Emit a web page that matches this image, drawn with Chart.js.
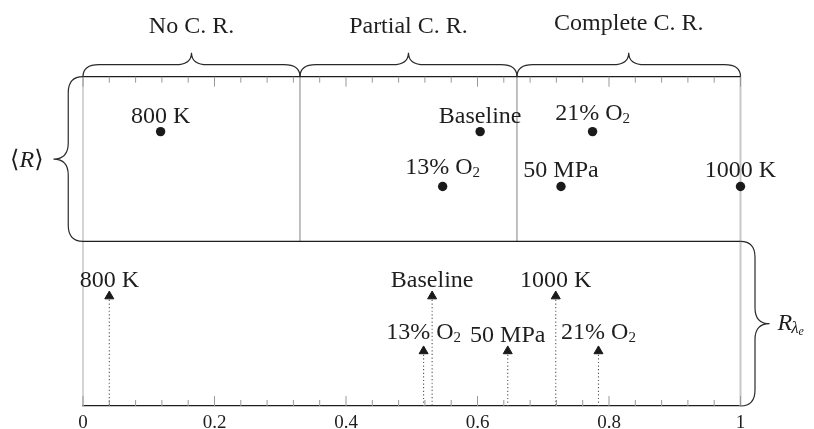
<!DOCTYPE html>
<html>
<head>
<meta charset="utf-8">
<script src="https://cdn.jsdelivr.net/npm/chart.js@4.4.1/dist/chart.umd.min.js"></script>
<style>
  html, body { margin: 0; padding: 0; background: #fff; }
</style>
</head>
<body>
<canvas id="chart" width="814" height="429"></canvas>
<script>
// cases, in the same order for both panels ('_' marks a subscript)
const cases = ['800 K', '13% O_2', 'Baseline', '21% O_2', '50 MPa', '1000 K'];
const meanR = [0.118, 0.547, 0.604, 0.775, 0.727, 1.0];
const meanRRow = [5, 4, 5, 5, 4, 4];
const rLambda = [0.040, 0.518, 0.531, 0.784, 0.646, 0.719];
const rLambdaRow = [2, 1, 2, 1, 1, 2];
const regimeEdges = [0, 0.33, 0.66, 1];
const regimeLabels = ['No C. R.', 'Partial C. R.', 'Complete C. R.'];
const xTickStep = 0.04;
const xLabelStep = 0.2;

const SERIF = "'Liberation Serif', 'DejaVu Serif', serif";
const INK = '#1e1e1e';

function isMajor(v) {
  const q = v / xLabelStep;
  return Math.abs(q - Math.round(q)) < 1e-6;
}

function line(ctx, x1, y1, x2, y2, color, width, dash) {
  ctx.beginPath();
  ctx.setLineDash(dash || []);
  ctx.strokeStyle = color;
  ctx.lineWidth = width;
  ctx.moveTo(x1, y1);
  ctx.lineTo(x2, y2);
  ctx.stroke();
  ctx.setLineDash([]);
}

// curly brace from a to b, tip on the left-hand side of a->b
function brace(ctx, ax, ay, bx, by, depth) {
  const len = Math.hypot(bx - ax, by - ay);
  const h = depth / 2;
  const r = Math.min(16, len / 4);
  const m = len / 2;
  ctx.save();
  ctx.translate(ax, ay);
  ctx.rotate(Math.atan2(by - ay, bx - ax));
  ctx.beginPath();
  ctx.moveTo(0, 0);
  ctx.quadraticCurveTo(0, -h, r, -h);
  ctx.lineTo(m - r, -h);
  ctx.quadraticCurveTo(m, -h, m, -depth);
  ctx.quadraticCurveTo(m, -h, m + r, -h);
  ctx.lineTo(len - r, -h);
  ctx.quadraticCurveTo(len, -h, len, 0);
  ctx.strokeStyle = '#2a2a2a';
  ctx.lineWidth = 1.2;
  ctx.stroke();
  ctx.restore();
}

function caseLabel(ctx, text, cx, cy) {
  const [main, sub] = text.split('_');
  ctx.font = '24px ' + SERIF;
  const wMain = ctx.measureText(main).width;
  let wSub = 0;
  if (sub) {
    ctx.font = '15px ' + SERIF;
    wSub = ctx.measureText(sub).width;
  }
  const base = cy - (sub ? 12 : 9);
  const x0 = cx - (wMain + wSub) / 2;
  ctx.textAlign = 'left';
  ctx.textBaseline = 'alphabetic';
  ctx.fillStyle = INK;
  ctx.font = '24px ' + SERIF;
  ctx.fillText(main, x0, base);
  if (sub) {
    ctx.font = '15px ' + SERIF;
    ctx.fillText(sub, x0 + wMain, base + 3);
  }
}

const framePlugin = {
  id: 'frame',
  beforeDatasetsDraw(chart) {
    const { ctx, chartArea: a, scales: { x, y } } = chart;
    const yTop = y.getPixelForValue(6);
    const yMid = y.getPixelForValue(3);
    const yBot = y.getPixelForValue(0);
    ctx.save();
    line(ctx, x.getPixelForValue(0), yTop, x.getPixelForValue(0), yBot, '#b8b8b8', 1.2);
    line(ctx, x.getPixelForValue(1), yTop, x.getPixelForValue(1), yBot, '#c8c8c8', 2);
    regimeEdges.slice(1, -1).forEach(v => {
      const px = x.getPixelForValue(v);
      line(ctx, px, yTop, px, yMid, '#8c8c8c', 1.1);
    });
    line(ctx, a.left, yTop, a.right, yTop, INK, 1.3);
    line(ctx, a.left, yMid, a.right, yMid, INK, 1.3);
    x.ticks.forEach(t => {
      const px = x.getPixelForValue(t.value);
      const len = isMajor(t.value) ? 10 : 6;
      line(ctx, px, yTop, px, yTop + len, '#999', 1);
      line(ctx, px, yBot, px, yBot - len, '#999', 1);
    });
    chart.getDatasetMeta(1).data.forEach(el => {
      line(ctx, el.x, el.y, el.x, yBot, '#555', 1.1, [1.2, 2.4]);
    });
    ctx.restore();
  },
  afterDatasetsDraw(chart) {
    const { ctx, scales: { x, y } } = chart;
    const yTop = y.getPixelForValue(6);
    const yMid = y.getPixelForValue(3);
    const yBot = y.getPixelForValue(0);
    ctx.save();

    [0, 1].forEach(i => {
      chart.getDatasetMeta(i).data.forEach((el, j) => caseLabel(ctx, cases[j], el.x, el.y));
    });

    // regime braces and titles
    const topDepth = 24;
    regimeLabels.forEach((label, i) => {
      const x1 = x.getPixelForValue(regimeEdges[i]);
      const x2 = x.getPixelForValue(regimeEdges[i + 1]);
      brace(ctx, x1, yTop, x2, yTop, topDepth);
      ctx.font = '24px ' + SERIF;
      const m = ctx.measureText(label);
      ctx.fillStyle = INK;
      ctx.textAlign = 'center';
      ctx.textBaseline = 'alphabetic';
      ctx.fillText(label, (x1 + x2) / 2, yTop - topDepth - 19.7 - m.actualBoundingBoxDescent * 0.65);
    });

    // left brace: <R>
    const x0 = x.getPixelForValue(0);
    const leftDepth = 29.5;
    brace(ctx, x0, yMid, x0, yTop, leftDepth);
    const tipL = { x: x0 - leftDepth, y: (yTop + yMid) / 2 };
    const parts = [['\u27E8', ''], ['R', 'italic '], ['\u27E9', '']];
    let w = 0;
    parts.forEach(([t, s]) => { ctx.font = s + '24px ' + SERIF; w += ctx.measureText(t).width; });
    let cx = tipL.x - 10 - w;
    ctx.textAlign = 'left';
    ctx.textBaseline = 'alphabetic';
    ctx.fillStyle = INK;
    parts.forEach(([t, s]) => {
      ctx.font = s + '24px ' + SERIF;
      ctx.fillText(t, cx, tipL.y + 7.5);
      cx += ctx.measureText(t).width;
    });

    // right brace: R_lambda_e
    const x1 = x.getPixelForValue(1);
    const rightDepth = 29;
    brace(ctx, x1, yMid, x1, yBot, rightDepth);
    const tipR = { x: x1 + rightDepth, y: (yMid + yBot) / 2 };
    let rx = tipR.x + 8;
    const rb = tipR.y + 6;
    ctx.font = 'italic 24px ' + SERIF;
    ctx.fillText('R', rx, rb);
    rx += ctx.measureText('R').width - 1;
    ctx.font = 'italic 17px ' + SERIF;
    ctx.fillText('\u03BB', rx, rb + 3.7);
    rx += ctx.measureText('\u03BB').width;
    ctx.font = 'italic 12px ' + SERIF;
    ctx.fillText('e', rx, rb + 5.7);

    ctx.restore();
  }
};

new Chart(document.getElementById('chart'), {
  type: 'scatter',
  data: {
    datasets: [
      {
        label: '<R>',
        data: meanR.map((v, i) => ({ x: v, y: meanRRow[i] })),
        pointStyle: 'circle',
        pointRadius: 4.7,
        backgroundColor: '#1a1a1a',
        borderColor: '#1a1a1a',
        borderWidth: 0,
        clip: false
      },
      {
        label: 'R_lambda_e',
        data: rLambda.map((v, i) => ({ x: v, y: rLambdaRow[i] })),
        pointStyle: 'triangle',
        pointRadius: 5.2,
        backgroundColor: '#1a1a1a',
        borderColor: '#1a1a1a',
        borderWidth: 1,
        clip: false
      }
    ]
  },
  options: {
    responsive: false,
    animation: false,
    devicePixelRatio: 1,
    layout: { padding: { left: 83, right: 73.5, top: 76.7, bottom: 0 } },
    plugins: { legend: { display: false }, tooltip: { enabled: false } },
    scales: {
      x: {
        type: 'linear',
        min: 0,
        max: 1,
        grid: { display: false, drawTicks: false },
        border: { display: true, color: INK, width: 1.3 },
        afterFit: scale => { scale.height = 23; },
        ticks: {
          stepSize: xTickStep,
          autoSkip: false,
          maxRotation: 0,
          padding: 10,
          color: INK,
          font: { family: SERIF, size: 19, lineHeight: 0.7 },
          callback: v => isMajor(v) ? (Math.abs(v - Math.round(v)) < 1e-6 ? String(Math.round(v)) : v.toFixed(1)) : ''
        }
      },
      y: { min: 0, max: 6, display: false }
    }
  },
  plugins: [framePlugin]
});
</script>
</body>
</html>
